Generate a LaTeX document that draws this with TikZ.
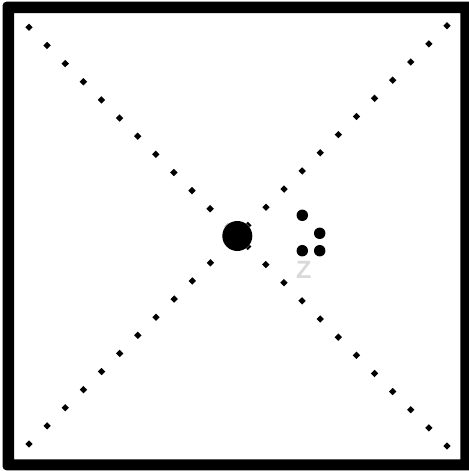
\documentclass[tikz,border=0pt]{standalone}
\usepackage{fontspec}
\setsansfont{Liberation Sans}
\usetikzlibrary{positioning}
\tikzset{
  bigdot/.style={circle, fill=black, inner sep=0pt, minimum size=22.5pt},
  smalldot/.style={circle, fill=black, inner sep=0pt, minimum size=8.6pt},
  dotline/.style={line width=3.9pt, dash pattern=on 3.9pt off 15.33pt, shorten <=-1.95pt},
  zlabel/.style={text=black!15, font=\sffamily\bfseries\fontsize{18.8}{20}\selectfont, inner sep=0pt}
}

\begin{document}
\begin{tikzpicture}[x=0.75pt, y=-0.75pt]
  \useasboundingbox (0,0) rectangle (468,471);
  % frame
  \fill[black, even odd rule]
    [rounded corners=3pt] (2.5,1.7) rectangle (478,470.3)
    [sharp corners] (14,13) rectangle (460.3,459.3);
  % dots
  \node[bigdot] (hub) at (237.3,236) {};
  \node[smalldot] (d1) at (302.3,215.3) {};
  \node[smalldot] (d2) at (319.7,233.3) {};
  \node[smalldot] (d3) at (302.3,250.7) {};
  \node[smalldot] (d4) at (319.7,250.7) {};
  \node[zlabel] (z) at (303.8,270.2) {Z};
  % corners of the diagonals
  \coordinate (tl) at (29,27.3);
  \coordinate (br) at (447,446);
  \coordinate (tr) at (447,25.7);
  \coordinate (bl) at (29,444);
  \foreach \c in {tl,tr,bl,br}
    \draw[dotline] (\c) -- (hub);
\end{tikzpicture}
\end{document}
